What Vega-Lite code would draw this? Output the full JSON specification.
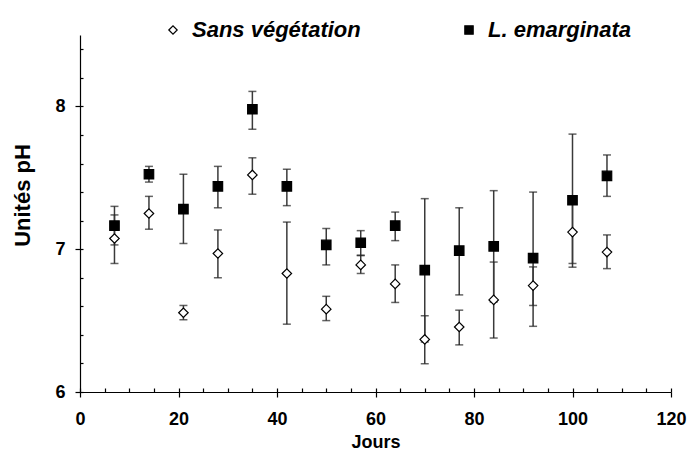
{
  "$schema": "https://vega.github.io/schema/vega-lite/v6.json",
  "width": 591,
  "height": 357,
  "autosize": {"type": "none"},
  "padding": {"left": 80, "top": 35, "right": 18, "bottom": 60},
  "config": {
    "font": "Liberation Sans",
    "view": {"stroke": null},
    "axis": {
      "domainColor": "black",
      "domainWidth": 1.2,
      "tickColor": "black",
      "tickWidth": 1.2,
      "labelColor": "black",
      "labelFont": "Liberation Sans",
      "labelFontWeight": "bold",
      "labelFontSize": 18,
      "labelFlush": false,
      "labelOverlap": false,
      "titleFont": "Liberation Sans",
      "titleFontWeight": "bold",
      "titleColor": "black",
      "grid": false
    }
  },
  "data": {
    "values": [
      {"day": 7, "series": "Sans végétation", "mean": 7.075, "lo": 6.90, "hi": 7.24},
      {"day": 14, "series": "Sans végétation", "mean": 7.25, "lo": 7.14, "hi": 7.37},
      {"day": 21, "series": "Sans végétation", "mean": 6.555, "lo": 6.506, "hi": 6.606},
      {"day": 28, "series": "Sans végétation", "mean": 6.97, "lo": 6.80, "hi": 7.135},
      {"day": 35, "series": "Sans végétation", "mean": 7.52, "lo": 7.385, "hi": 7.64},
      {"day": 42, "series": "Sans végétation", "mean": 6.83, "lo": 6.475, "hi": 7.19},
      {"day": 50, "series": "Sans végétation", "mean": 6.58, "lo": 6.50, "hi": 6.67},
      {"day": 57, "series": "Sans végétation", "mean": 6.89, "lo": 6.83, "hi": 6.958},
      {"day": 64, "series": "Sans végétation", "mean": 6.757, "lo": 6.627, "hi": 6.89},
      {"day": 70, "series": "Sans végétation", "mean": 6.368, "lo": 6.198, "hi": 6.534},
      {"day": 77, "series": "Sans végétation", "mean": 6.455, "lo": 6.33, "hi": 6.573},
      {"day": 84, "series": "Sans végétation", "mean": 6.645, "lo": 6.378, "hi": 6.91},
      {"day": 92, "series": "Sans végétation", "mean": 6.745, "lo": 6.606, "hi": 6.876},
      {"day": 100, "series": "Sans végétation", "mean": 7.12, "lo": 6.874, "hi": 7.37},
      {"day": 107, "series": "Sans végétation", "mean": 6.98, "lo": 6.864, "hi": 7.10},
      {"day": 7, "series": "L. emarginata", "mean": 7.165, "lo": 7.03, "hi": 7.30},
      {"day": 14, "series": "L. emarginata", "mean": 7.525, "lo": 7.47, "hi": 7.58},
      {"day": 21, "series": "L. emarginata", "mean": 7.28, "lo": 7.04, "hi": 7.525},
      {"day": 28, "series": "L. emarginata", "mean": 7.44, "lo": 7.29, "hi": 7.58},
      {"day": 35, "series": "L. emarginata", "mean": 7.98, "lo": 7.84, "hi": 8.105},
      {"day": 42, "series": "L. emarginata", "mean": 7.44, "lo": 7.305, "hi": 7.56},
      {"day": 50, "series": "L. emarginata", "mean": 7.03, "lo": 6.89, "hi": 7.145},
      {"day": 57, "series": "L. emarginata", "mean": 7.045, "lo": 6.955, "hi": 7.13},
      {"day": 64, "series": "L. emarginata", "mean": 7.165, "lo": 7.06, "hi": 7.26},
      {"day": 70, "series": "L. emarginata", "mean": 6.853, "lo": 6.35, "hi": 7.354},
      {"day": 77, "series": "L. emarginata", "mean": 6.99, "lo": 6.68, "hi": 7.29},
      {"day": 84, "series": "L. emarginata", "mean": 7.02, "lo": 6.63, "hi": 7.41},
      {"day": 92, "series": "L. emarginata", "mean": 6.937, "lo": 6.46, "hi": 7.40},
      {"day": 100, "series": "L. emarginata", "mean": 7.343, "lo": 6.90, "hi": 7.806},
      {"day": 107, "series": "L. emarginata", "mean": 7.513, "lo": 7.37, "hi": 7.66}
    ]
  },
  "resolve": {"axis": {"x": "independent", "y": "independent"}},
  "layer": [
    {
      "mark": {"type": "rule", "color": "#3a3a3a", "strokeWidth": 1.5},
      "encoding": {
        "x": {
          "field": "day",
          "type": "quantitative",
          "scale": {"domain": [0, 120], "nice": false},
          "axis": {
            "orient": "bottom",
            "title": "Jours",
            "titleFontSize": 18,
            "titleY": 55,
            "titleBaseline": "alphabetic",
            "values": [0, 20, 40, 60, 80, 100, 120],
            "tickSize": 5,
            "labelPadding": 13
          }
        },
        "y": {
          "field": "lo",
          "type": "quantitative",
          "scale": {"domain": [6, 8.5], "nice": false, "zero": false},
          "axis": {
            "orient": "left",
            "title": "Unités pH",
            "titleFontSize": 22,
            "titleX": -58,
            "titleY": 160,
            "titleBaseline": "middle",
            "titleAlign": "center",
            "titleAngle": 270,
            "values": [6, 7, 8],
            "tickSize": 5,
            "labelPadding": 10
          }
        },
        "y2": {"field": "hi"}
      }
    },
    {
      "mark": {"type": "tick", "orient": "horizontal", "size": 8, "thickness": 1.5, "color": "#222"},
      "encoding": {
        "x": {
          "field": "day",
          "type": "quantitative",
          "axis": {
            "orient": "bottom",
            "title": null,
            "domain": false,
            "labels": false,
            "values": [0,5,10,15,20,25,30,35,40,45,50,55,60,65,70,75,80,85,90,95,100,105,110,115,120],
            "tickSize": -4
          }
        },
        "y": {
          "field": "lo",
          "type": "quantitative",
          "axis": {
            "orient": "left",
            "title": null,
            "domain": false,
            "labels": false,
            "values": [6,6.2,6.4,6.6,6.8,7,7.2,7.4,7.6,7.8,8,8.2,8.4],
            "tickSize": -3
          }
        }
      }
    },
    {
      "mark": {"type": "tick", "orient": "horizontal", "size": 8, "thickness": 1.5, "color": "#222"},
      "encoding": {
        "x": {"field": "day", "type": "quantitative", "axis": null},
        "y": {"field": "hi", "type": "quantitative", "axis": null}
      }
    },
    {
      "mark": {"type": "point", "filled": true, "stroke": "black", "strokeWidth": 1.2, "opacity": 1, "size": 90},
      "encoding": {
        "x": {"field": "day", "type": "quantitative", "axis": null},
        "y": {"field": "mean", "type": "quantitative", "axis": null},
        "shape": {
          "field": "series",
          "type": "nominal",
          "scale": {"domain": ["Sans végétation", "L. emarginata"], "range": ["diamond", "square"]},
          "legend": {
            "title": null, "orient": "none", "direction": "horizontal",
            "legendX": 82, "legendY": -16,
            "labelFont": "Liberation Sans", "labelFontSize": 22, "labelFontWeight": "bold", "labelFontStyle": "italic", "labelColor": "black",
            "labelLimit": 400,
            "symbolSize": 70, "symbolStrokeWidth": 1.2, "columnPadding": 97, "labelOffset": 8
          }
        },
        "fill": {
          "field": "series",
          "type": "nominal",
          "scale": {"domain": ["Sans végétation", "L. emarginata"], "range": ["white", "black"]},
          "legend": {
            "title": null, "orient": "none", "direction": "horizontal",
            "legendX": 82, "legendY": -16,
            "labelFont": "Liberation Sans", "labelFontSize": 22, "labelFontWeight": "bold", "labelFontStyle": "italic", "labelColor": "black",
            "labelLimit": 400,
            "symbolSize": 70, "symbolStrokeWidth": 1.2, "columnPadding": 97, "labelOffset": 8
          }
        }
      }
    }
  ]
}
